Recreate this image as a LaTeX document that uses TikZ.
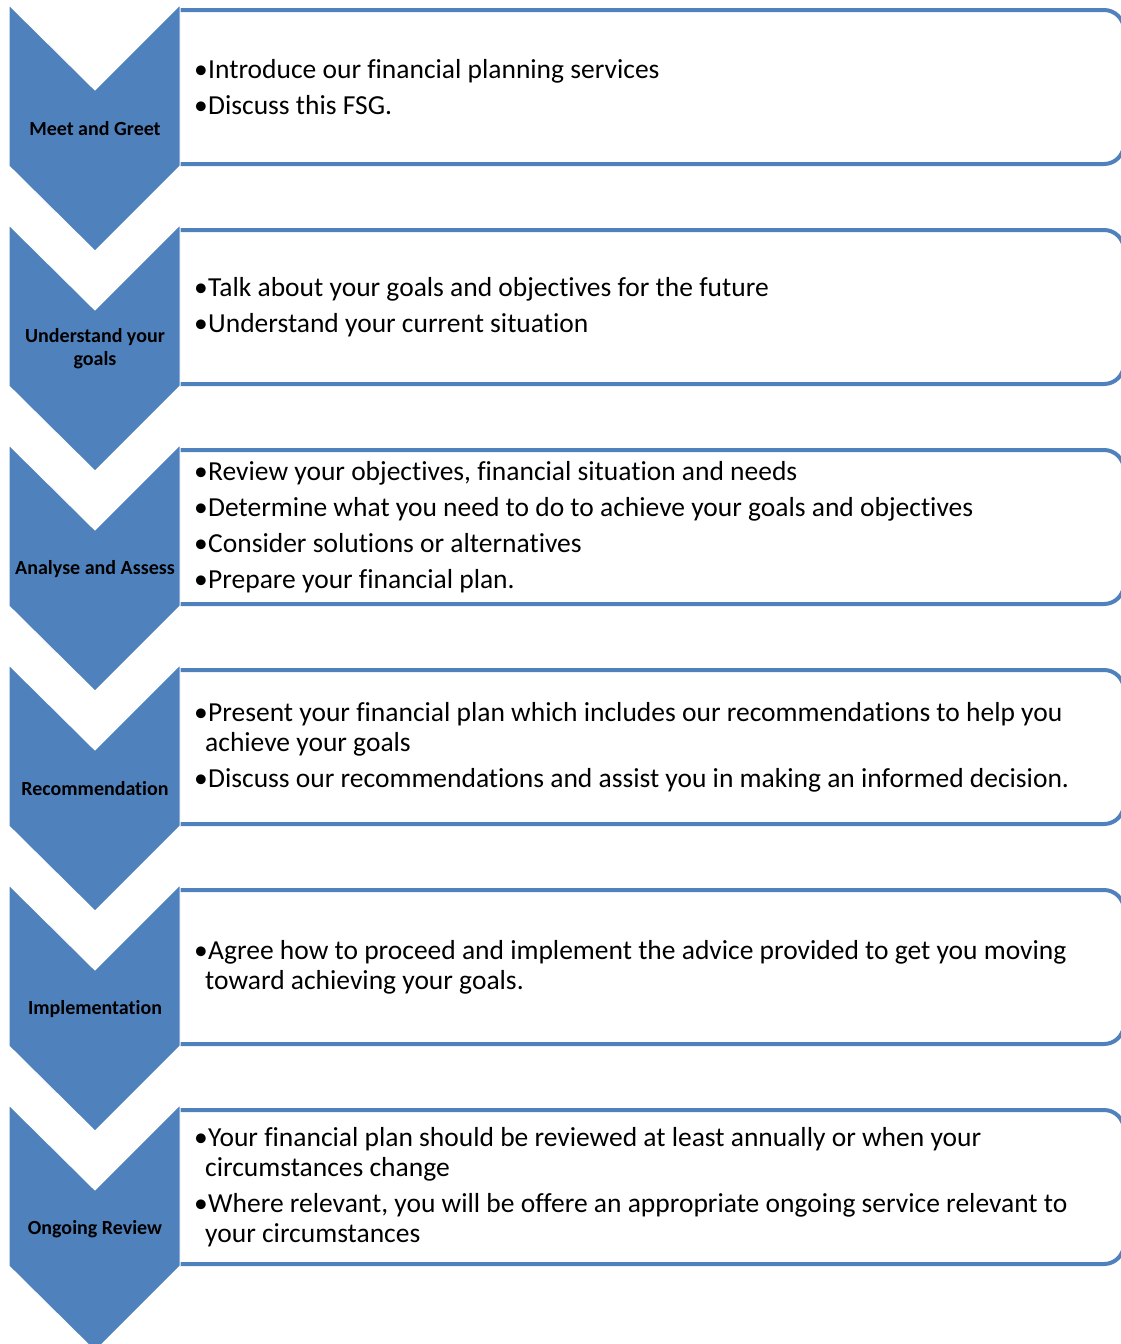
\documentclass[tikz,border=0pt]{standalone}
\usepackage{fontspec}
\setmainfont{Carlito}[Ligatures={NoCommon}]
\definecolor{stepblue}{HTML}{4F81BD}
\tikzset{
 chevron/.style={fill=stepblue,draw=white,line width=1pt},
 stepbox/.style={draw=stepblue,fill=white,line width=4pt,rounded corners=20pt,minimum width=974pt,minimum height=154pt,inner sep=0pt},
 steplabel/.style={font=\fontsize{20}{23}\selectfont\bfseries,align=center,inner sep=0pt},
 steptext/.style={font=\fontsize{27.5}{30}\selectfont,align=left,anchor=west,inner sep=0pt},
}
\newcommand{\itm}[1]{\makebox[14pt][l]{\textbullet}#1}
\newcommand{\cnt}[1]{\hspace*{11pt}#1}
\begin{document}
\begin{tikzpicture}[x=1pt,y=-1pt]
 \useasboundingbox (0,0) rectangle (1121,1344);
 \begin{scope}
 \clip (179,0) rectangle (1121,1344);
 \node (box 1) at (637,87) [stepbox] {};
 \node (box 2) at (637,307) [stepbox] {};
 \node (box 3) at (637,527) [stepbox] {};
 \node (box 4) at (637,747) [stepbox] {};
 \node (box 5) at (637,967) [stepbox] {};
 \node (box 6) at (637,1187) [stepbox] {};
 \end{scope}
 \draw[chevron] (9,5) -- (95,90) -- (180,5) -- (180,166) -- (95,251) -- (9,166) -- cycle;
 \draw[chevron] (9,225) -- (95,310) -- (180,225) -- (180,386) -- (95,471) -- (9,386) -- cycle;
 \draw[chevron] (9,445) -- (95,530) -- (180,445) -- (180,606) -- (95,691) -- (9,606) -- cycle;
 \draw[chevron] (9,665) -- (95,750) -- (180,665) -- (180,826) -- (95,911) -- (9,826) -- cycle;
 \draw[chevron] (9,885) -- (95,970) -- (180,885) -- (180,1046) -- (95,1131) -- (9,1046) -- cycle;
 \draw[chevron] (9,1105) -- (95,1190) -- (180,1105) -- (180,1266) -- (95,1351) -- (9,1266) -- cycle;
 \node (lbl 1) at (95,129) [steplabel] {Meet and Greet};
 \node (lbl 2) at (95,349) [steplabel] {Understand your\\goals};
 \node (lbl 3) at (95,569) [steplabel] {Analyse and Assess};
 \node (lbl 4) at (95,789) [steplabel] {Recommendation};
 \node (lbl 5) at (95,1009) [steplabel] {Implementation};
 \node (lbl 6) at (95,1229) [steplabel] {Ongoing Review};
 \node (txt 1) at (194,87) [steptext] {\itm{Introduce our financial planning services}\\[6pt]
  \itm{Discuss this FSG.}};
 \node (txt 2) at (194,307) [steptext] {\itm{Talk about your goals and objectives for the future}\\[6pt]
  \itm{Understand your current situation}};
 \node (txt 3) at (194,527) [steptext] {\itm{Review your objectives, financial situation and needs}\\[6pt]
  \itm{Determine what you need to do to achieve your goals and objectives}\\[6pt]
  \itm{Consider solutions or alternatives}\\[6pt]
  \itm{Prepare your financial plan.}};
 \node (txt 4) at (194,747) [steptext] {\itm{Present your financial plan which includes our recommendations to help you}\\
  \cnt{achieve your goals}\\[6pt]
  \itm{Discuss our recommendations and assist you in making an informed decision.}};
 \node (txt 5) at (194,967) [steptext] {\itm{Agree how to proceed and implement the advice provided to get you moving}\\
  \cnt{toward achieving your goals.}};
 \node (txt 6) at (194,1187) [steptext] {\itm{Your financial plan should be reviewed at least annually or when your}\\
  \cnt{circumstances change}\\[6pt]
  \itm{Where relevant, you will be offere an appropriate ongoing service relevant to}\\
  \cnt{your circumstances}};
\end{tikzpicture}
\end{document}
